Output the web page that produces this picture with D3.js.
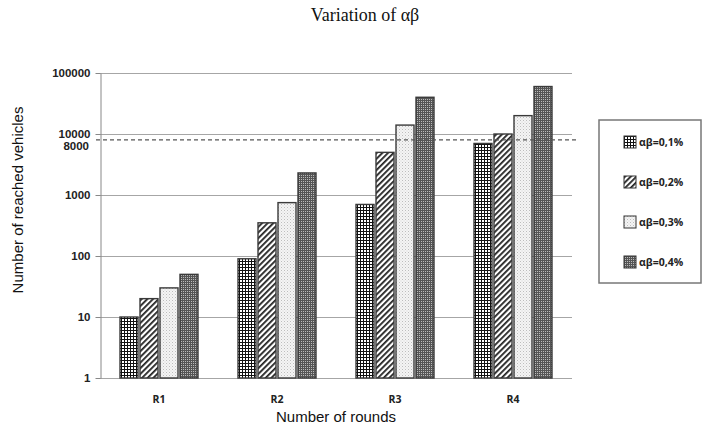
<!DOCTYPE html>
<html>
<head>
<meta charset="utf-8">
<script src="https://cdn.jsdelivr.net/npm/d3@7/dist/d3.min.js"></script>
<style>
  html, body { margin: 0; padding: 0; background: #fff; }
  svg { display: block; }
</style>
</head>
<body>
<script>
// ---- data ----
const categories = ["R1", "R2", "R3", "R4"];
const seriesNames = ["αβ=0,1%", "αβ=0,2%", "αβ=0,3%", "αβ=0,4%"];
const series01 = [10, 90, 700, 7000];
const series02 = [20, 350, 5000, 10000];
const series03 = [30, 750, 14000, 20000];
const series04 = [50, 2300, 40000, 60000];
const yTickValues = [1, 10, 100, 1000, 10000, 100000];
const yTickLabels = ["1", "10", "100", "1000", "10000", "100000"];
const thresholdValue = 8000;
const thresholdLabel = "8000";
const titleText = "Variation of αβ";
const xTitle = "Number of rounds";
const yTitle = "Number of reached vehicles";

const allSeries = [series01, series02, series03, series04];

const W = 704, H = 437;
const margin = { left: 100, right: 132, top: 73, bottom: 59 };
const plotW = W - margin.left - margin.right; // 472
const plotH = H - margin.top - margin.bottom; // 305

const svg = d3.select("body").append("svg").attr("width", W).attr("height", H);

// ---- patterns ----
const defs = svg.append("defs");
// series 1: black grid with white squares
let p = defs.append("pattern").attr("id", "pat0").attr("patternUnits", "userSpaceOnUse")
  .attr("width", 3).attr("height", 3);
p.append("rect").attr("width", 3).attr("height", 3).attr("fill", "#111");
p.append("rect").attr("x", 1).attr("y", 1).attr("width", 2).attr("height", 2).attr("fill", "#fff");
// series 2: diagonal stripes
p = defs.append("pattern").attr("id", "pat1").attr("patternUnits", "userSpaceOnUse")
  .attr("width", 4).attr("height", 4).attr("patternTransform", "rotate(45)");
p.append("rect").attr("width", 4).attr("height", 4).attr("fill", "#fff");
p.append("rect").attr("width", 1.8).attr("height", 4).attr("fill", "#222");
// series 3: light dots
p = defs.append("pattern").attr("id", "pat2").attr("patternUnits", "userSpaceOnUse")
  .attr("width", 3).attr("height", 3);
p.append("rect").attr("width", 3).attr("height", 3).attr("fill", "#f4f4f4");
p.append("rect").attr("x", 0).attr("y", 0).attr("width", 1).attr("height", 1).attr("fill", "#bdbdbd");
p.append("rect").attr("x", 1.5).attr("y", 1.5).attr("width", 1).attr("height", 1).attr("fill", "#d6d6d6");
// series 4: fine dark grid
p = defs.append("pattern").attr("id", "pat3").attr("patternUnits", "userSpaceOnUse")
  .attr("width", 2).attr("height", 2);
p.append("rect").attr("width", 2).attr("height", 2).attr("fill", "#555");
p.append("rect").attr("x", 1).attr("y", 1).attr("width", 1).attr("height", 1).attr("fill", "#bbb");
const fills = ["url(#pat0)", "url(#pat1)", "url(#pat2)", "url(#pat3)"];

// ---- scales ----
const y = d3.scaleLog().domain([1, 100000]).range([margin.top + plotH, margin.top]);
const x0 = d3.scaleBand().domain(categories).range([margin.left, margin.left + plotW]);
const x1 = d3.scaleBand().domain(d3.range(seriesNames.length)).range([19, 99])
  .paddingInner(0.1).paddingOuter(0.05);

// ---- gridlines ----
svg.append("g").selectAll("line").data(yTickValues).join("line")
  .attr("x1", margin.left).attr("x2", margin.left + plotW)
  .attr("y1", d => Math.round(y(d)) + 0.5).attr("y2", d => Math.round(y(d)) + 0.5)
  .attr("stroke", "#a6a6a6").attr("stroke-width", 1.2);

// ---- y axis ----
const yAxis = d3.axisLeft(y).tickValues(yTickValues)
  .tickFormat((d, i) => yTickLabels[i]).tickSize(5).tickSizeOuter(0);
const gy = svg.append("g").attr("transform", `translate(${margin.left + 0.5},0)`).call(yAxis);
gy.select(".domain").attr("stroke", "#888");
gy.selectAll(".tick line").attr("stroke", "#888");
gy.selectAll(".tick text").attr("font-family", "Liberation Sans, Arial, sans-serif")
  .attr("font-size", 11.5).attr("font-weight", "bold").attr("fill", "#222").attr("dx", -2);

// ---- bars ----
const groups = svg.append("g").selectAll("g").data(categories).join("g")
  .attr("transform", d => `translate(${x0(d)},0)`);
groups.selectAll("rect").data((c, ci) => allSeries.map((s, si) => ({ si, v: s[ci] }))).join("rect")
  .attr("x", d => x1(d.si))
  .attr("width", x1.bandwidth())
  .attr("y", d => y(d.v))
  .attr("height", d => y(1) - y(d.v))
  .attr("fill", d => fills[d.si])
  .attr("stroke", "#3a3a3a").attr("stroke-width", 1.4);

// ---- threshold line ----
svg.append("line")
  .attr("x1", margin.left - 4).attr("x2", margin.left + plotW + 5)
  .attr("y1", y(thresholdValue)).attr("y2", y(thresholdValue))
  .attr("stroke", "#555").attr("stroke-width", 1.2).attr("stroke-dasharray", "4,3");
svg.append("text").attr("x", margin.left - 11).attr("y", y(thresholdValue) + 10)
  .attr("text-anchor", "end")
  .attr("font-family", "Liberation Sans, Arial, sans-serif").attr("font-size", 11.5)
  .attr("font-weight", "bold").attr("fill", "#222").text(thresholdLabel);

// ---- x axis labels ----
svg.append("g").selectAll("text").data(categories).join("text")
  .attr("x", d => x0(d) + x0.bandwidth() / 2).attr("y", margin.top + plotH + 25)
  .attr("text-anchor", "middle")
  .attr("font-family", "Open Sans, Liberation Sans, sans-serif").attr("font-size", 10.5)
  .attr("font-weight", "bold").attr("fill", "#222").text(d => d);

// ---- titles ----
svg.append("text").attr("x", 365).attr("y", 21).attr("text-anchor", "middle")
  .attr("font-family", "Liberation Serif, Times New Roman, serif").attr("font-size", 18)
  .attr("fill", "#111").text(titleText);
svg.append("text").attr("x", 336).attr("y", 422).attr("text-anchor", "middle")
  .attr("font-family", "Liberation Sans, Arial, sans-serif").attr("font-size", 15)
  .attr("fill", "#111").text(xTitle);
svg.append("text").attr("transform", "translate(23,200) rotate(-90)").attr("text-anchor", "middle")
  .attr("font-family", "Liberation Sans, Arial, sans-serif").attr("font-size", 15)
  .attr("fill", "#111").text(yTitle);

// ---- legend ----
const lg = svg.append("g");
lg.append("rect").attr("x", 599).attr("y", 120).attr("width", 102).attr("height", 163)
  .attr("fill", "#fff").attr("stroke", "#777").attr("stroke-width", 1.5);
const items = lg.selectAll("g.item").data(seriesNames).join("g").attr("class", "item")
  .attr("transform", (d, i) => `translate(624,${142 + i * 40})`);
items.append("rect").attr("x", 0).attr("y", -6).attr("width", 12).attr("height", 12)
  .attr("fill", (d, i) => fills[i]).attr("stroke", "#333").attr("stroke-width", 1);
items.append("text").attr("x", 15).attr("y", 4)
  .attr("font-family", "Open Sans, Liberation Sans, sans-serif").attr("font-size", 10.5)
  .attr("font-weight", "bold").attr("fill", "#222").text(d => d);
</script>
</body>
</html>
